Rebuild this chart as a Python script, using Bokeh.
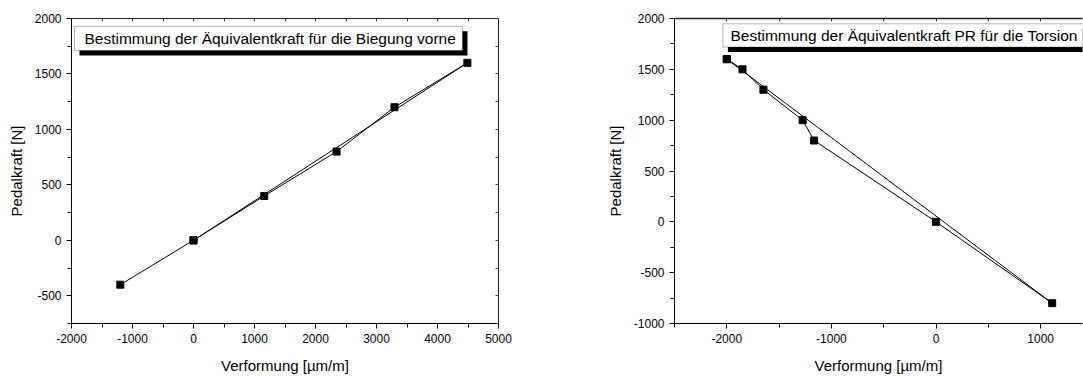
from bokeh.plotting import figure
from bokeh.layouts import row
from bokeh.models import (FixedTicker, LinearAxis, BoxAnnotation, Label, Range1d,
                          PrintfTickFormatter, CustomJSTickFormatter)
from bokeh.embed import file_html
from bokeh.resources import INLINE

# ---- data ----
bend_strain = [0, 1160, 2345, 3295, 4490, 0, -1200]
bend_force = [0, 400, 800, 1200, 1600, 0, -400]
bend_title = "Bestimmung der Äquivalentkraft für die Biegung vorne"

tors_strain = [-2000, -1850, -1650, -1275, -1165, 0, 1110, -2000]
tors_force = [1600, 1500, 1300, 1000, 800, 0, -800, 1600]
tors_title = "Bestimmung der Äquivalentkraft PR für die Torsion"

x_label = "Verformung [µm/m]"
y_label = "Pedalkraft [N]"

bend_xticks = [-2000, -1000, 0, 1000, 2000, 3000, 4000, 5000]
bend_xminor = [-1500, -500, 500, 1500, 2500, 3500, 4500]
bend_yticks = [-500, 0, 500, 1000, 1500, 2000]
bend_yminor = [-750, -250, 250, 750, 1250, 1750]

tors_xticks = [-2000, -1000, 0, 1000]
tors_xminor = [-2500, -1500, -500, 500]
tors_yticks = [-1000, -500, 0, 500, 1000, 1500, 2000]
tors_yminor = [-750, -250, 250, 750, 1250, 1750]

FONT = "Liberation Sans"


def style_main_axis(ax, label, standoff):
    ax.formatter = PrintfTickFormatter(format="%d")
    ax.axis_label = label
    ax.axis_label_text_font = FONT
    ax.axis_label_text_font_size = "15px"
    ax.axis_label_text_font_style = "normal"
    ax.axis_label_text_color = "black"
    ax.axis_label_standoff = standoff
    ax.major_label_text_font = FONT
    ax.major_label_text_font_size = "12px"
    ax.major_label_text_color = "black"
    ax.major_label_standoff = 5
    ax.axis_line_color = "black"
    ax.axis_line_width = 1
    ax.major_tick_line_color = "black"
    ax.minor_tick_line_color = "black"
    ax.major_tick_out = 5
    ax.major_tick_in = 0
    ax.minor_tick_out = 4
    ax.minor_tick_in = 0


def mirror_axis(ticks, minor, side, p, width=1):
    ax = LinearAxis(ticker=FixedTicker(ticks=ticks, minor_ticks=minor),
                    formatter=CustomJSTickFormatter(code="return ''"))
    ax.major_label_standoff = 0
    ax.axis_line_color = "#222222"
    ax.axis_line_width = width
    ax.major_tick_line_color = "#333333"
    ax.minor_tick_line_color = "#333333"
    ax.major_tick_out = 0
    ax.major_tick_in = 3
    ax.minor_tick_out = 0
    ax.minor_tick_in = 3
    p.add_layout(ax, side)


def make_fig(width, bl, br, bt, xr, yr, xt, xm, yt, ym):
    p = figure(width=width, height=376, output_backend="svg", toolbar_location=None,
               x_range=Range1d(*xr), y_range=Range1d(*yr),
               min_border_left=bl, min_border_right=br, min_border_top=bt,
               min_border_bottom=52)
    p.grid.visible = False
    p.outline_line_color = None
    p.background_fill_color = "white"
    p.border_fill_color = "white"
    p.xaxis.ticker = FixedTicker(ticks=xt, minor_ticks=xm)
    p.yaxis.ticker = FixedTicker(ticks=yt, minor_ticks=ym)
    style_main_axis(p.xaxis[0], x_label, 11)
    style_main_axis(p.yaxis[0], y_label, 7)
    return p


# ---- left chart ----
p1 = make_fig(560, 71, 62, 13, (-2000, 5000), (-750, 2000),
              bend_xticks, bend_xminor, bend_yticks, bend_yminor)
mirror_axis(bend_xticks, bend_xminor, "above", p1)
mirror_axis(bend_yticks, bend_yminor, "right", p1)
p1.line(bend_strain, bend_force, line_color="black", line_width=1)
p1.scatter(bend_strain, bend_force, marker="square", size=7,
           fill_color="black", line_color="black")
p1.add_layout(BoxAnnotation(left=-1869, right=4491, top=1885, bottom=1667,
                            fill_color="black", fill_alpha=1, line_color=None))
p1.add_layout(BoxAnnotation(left=-1951, right=4409, top=1929, bottom=1711,
                            fill_color="white", fill_alpha=1,
                            line_color="black", line_width=1))
p1.add_layout(Label(x=-1787, y=1822, text=bend_title, text_font=FONT,
                    text_font_size="15.5px", text_baseline="middle",
                    text_color="black"))

# ---- right chart ----
p2 = make_fig(523, 114, 1, 18, (-2500, 1400), (-1000, 2000),
              tors_xticks, tors_xminor, tors_yticks, tors_yminor)
mirror_axis(tors_xticks, tors_xminor, "above", p2, width=1.5)
p2.line(tors_strain, tors_force, line_color="black", line_width=1)
p2.scatter(tors_strain, tors_force, marker="square", size=7,
           fill_color="black", line_color="black")
p2.add_layout(BoxAnnotation(left=-1990, right=1500, top=1899, bottom=1670,
                            fill_color="black", fill_alpha=1, line_color=None))
p2.add_layout(BoxAnnotation(left=-2038, right=1500, top=1948, bottom=1719,
                            fill_color="white", fill_alpha=1,
                            line_color="black", line_width=1))
p2.add_layout(Label(x=-1965, y=1833, text=tors_title, text_font=FONT,
                    text_font_size="15.5px", text_baseline="middle",
                    text_color="black"))

layout = row(p1, p2)
open("out.html", "w").write(file_html(layout, INLINE))
